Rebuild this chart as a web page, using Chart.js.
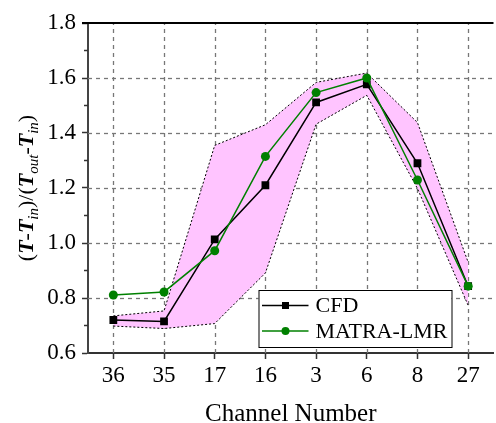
<!DOCTYPE html>
<html>
<head>
<meta charset="utf-8">
<script src="https://cdn.jsdelivr.net/npm/chart.js@4.4.1/dist/chart.umd.min.js"></script>
<style>
  html, body { margin: 0; padding: 0; background: #fff; overflow: hidden; }
  #wrap { width: 499px; height: 423px; }
</style>
</head>
<body>
<div id="wrap"><canvas id="myChart"></canvas></div>
<script>
const channels = ['36', '35', '17', '16', '3', '6', '8', '27'];
const cfd = [0.720, 0.715, 1.013, 1.210, 1.511, 1.577, 1.290, 0.843];
const matra = [0.811, 0.822, 0.972, 1.315, 1.547, 1.600, 1.229, 0.843];
const bandUpper = [0.735, 0.753, 1.355, 1.430, 1.584, 1.618, 1.438, 0.930];
const bandLower = [0.698, 0.689, 0.707, 0.891, 1.432, 1.537, 1.198, 0.773];
const yTicks = [0.6, 0.8, 1.0, 1.2, 1.4, 1.6, 1.8];

const serif = "'Liberation Serif', 'Times New Roman', Times, serif";

// dashed grid under the data
const dashedGrid = {
    id: 'dashedGrid',
    beforeDatasetsDraw(chart) {
        const { ctx, chartArea: a, scales: { x, y } } = chart;
        ctx.save();
        ctx.strokeStyle = '#777';
        ctx.lineWidth = 1.3;
        ctx.setLineDash([4, 4]);
        channels.forEach((c, i) => {
            const px = Math.round(x.getPixelForValue(i)) + 0.5;
            ctx.beginPath();
            ctx.moveTo(px, a.bottom);
            ctx.lineTo(px, a.top);
            ctx.stroke();
        });
        yTicks.slice(1, -1).forEach(v => {
            const py = Math.round(y.getPixelForValue(v)) + 0.5;
            ctx.beginPath();
            ctx.moveTo(a.left, py);
            ctx.lineTo(a.right, py);
            ctx.stroke();
        });
        ctx.restore();
    }
};

const extras = {
    id: 'extras',
    afterDraw(chart) {
        const { ctx, chartArea: a, scales: { x, y } } = chart;
        ctx.save();

        // minor ticks on the left axis
        ctx.strokeStyle = '#333';
        ctx.lineWidth = 1.5;
        for (let i = 0; i < yTicks.length - 1; i++) {
            const py = y.getPixelForValue((yTicks[i] + yTicks[i + 1]) / 2);
            ctx.beginPath();
            ctx.moveTo(a.left - 4, py);
            ctx.lineTo(a.left, py);
            ctx.stroke();
        }

        // top frame
        ctx.strokeStyle = '#000';
        ctx.lineWidth = 2;
        ctx.beginPath();
        ctx.moveTo(a.left - 6, a.top);
        ctx.lineTo(a.right, a.top);
        ctx.stroke();

        // legend
        const bw = 193, bh = 57;
        const bx = a.right - 42 - bw, by = a.bottom - 6 - bh;
        ctx.fillStyle = '#fff';
        ctx.fillRect(bx, by, bw, bh);
        ctx.strokeStyle = '#000';
        ctx.lineWidth = 1;
        ctx.strokeRect(bx + 0.5, by + 0.5, bw, bh);

        const rows = [
            { label: 'CFD', color: '#000', shape: 'rect', yy: by + 15.5 },
            { label: 'MATRA-LMR', color: '#008000', shape: 'circle', yy: by + 41 }
        ];
        rows.forEach(r => {
            ctx.strokeStyle = r.color;
            ctx.lineWidth = 1.5;
            ctx.beginPath();
            ctx.moveTo(bx + 3.5, r.yy);
            ctx.lineTo(bx + 50, r.yy);
            ctx.stroke();
            ctx.fillStyle = r.color;
            if (r.shape === 'rect') {
                ctx.fillRect(bx + 23.5, r.yy - 3.5, 7, 7);
            } else {
                ctx.beginPath();
                ctx.arc(bx + 27, r.yy, 4, 0, Math.PI * 2);
                ctx.fill();
            }
            ctx.fillStyle = '#000';
            ctx.font = '22px ' + serif;
            ctx.textAlign = 'left';
            ctx.textBaseline = 'middle';
            ctx.fillText(r.label, bx + 57, r.yy + 1);
        });

        // x title
        ctx.fillStyle = '#000';
        ctx.font = '25px ' + serif;
        ctx.textAlign = 'center';
        ctx.textBaseline = 'alphabetic';
        ctx.fillText('Channel Number', (a.left + a.right) / 2, 421);

        // y title with subscripts
        const big = '22px ' + serif;
        const bigT = 'italic bold 22px ' + serif;
        const sub = 'italic 15px ' + serif;
        const parts = [
            ['(', big, 0], ['T', bigT, 0], ['-', big, 0], ['T', bigT, 0], ['in', sub, 5],
            [')/(', big, 0], ['T', bigT, 0], ['out', sub, 5], ['-', big, 0],
            ['T', bigT, 0], ['in', sub, 5], [')', big, 0]
        ];
        let total = 0;
        parts.forEach(p => { ctx.font = p[1]; total += ctx.measureText(p[0]).width; });
        ctx.translate(33, (a.top + a.bottom) / 2);
        ctx.rotate(-Math.PI / 2);
        ctx.textAlign = 'left';
        let cx = -total / 2;
        parts.forEach(p => {
            ctx.font = p[1];
            ctx.fillText(p[0], cx, p[2]);
            cx += ctx.measureText(p[0]).width;
        });

        ctx.restore();
    }
};

const data = {
    labels: channels,
    datasets: [
        {
            label: 'MATRA-LMR',
            data: matra,
            borderColor: '#008000',
            backgroundColor: '#008000',
            borderWidth: 1.5,
            pointStyle: 'circle',
            pointRadius: 4.5,
            pointBorderWidth: 0,
            fill: false
        },
        {
            label: 'CFD',
            data: cfd,
            borderColor: '#000',
            backgroundColor: '#000',
            borderWidth: 1.5,
            pointStyle: 'rect',
            pointRadius: 5.5,
            pointBorderWidth: 0,
            fill: false
        },
        {
            label: 'upper',
            data: bandUpper,
            borderColor: '#000',
            borderWidth: 1,
            borderDash: [2, 2],
            pointRadius: 0,
            fill: false
        },
        {
            label: 'lower',
            data: bandLower,
            borderColor: '#000',
            borderWidth: 1,
            borderDash: [2, 2],
            pointRadius: 0,
            backgroundColor: '#ffc4ff',
            fill: '-1'
        }
    ]
};

const config = {
    type: 'line',
    data: data,
    options: {
        responsive: true,
        maintainAspectRatio: false,
        animation: false,
        layout: { padding: { top: 23, left: 0, right: 0, bottom: 0 } },
        plugins: {
            legend: { display: false },
            tooltip: { enabled: false }
        },
        scales: {
            x: {
                offset: true,
                afterFit: s => { s.height = 70; },
                grid: {
                    offset: false,
                    drawOnChartArea: false,
                    color: '#333',
                    tickLength: 6,
                    tickColor: '#333',
                    tickWidth: 1.5
                },
                border: { display: true, color: '#333', width: 2 },
                ticks: {
                    color: '#000',
                    padding: 3,
                    font: { family: serif, size: 23 },
                    maxRotation: 0,
                    autoSkip: false
                }
            },
            y: {
                min: 0.6,
                max: 1.8,
                afterFit: s => { s.width = 88; },
                grid: {
                    drawOnChartArea: false,
                    color: '#333',
                    tickLength: 6,
                    tickColor: '#333',
                    tickWidth: 1.5
                },
                border: { display: true, color: '#444', width: 2 },
                ticks: {
                    stepSize: 0.2,
                    color: '#000',
                    padding: 6,
                    font: { family: serif, size: 23 },
                    callback: v => v.toFixed(1)
                }
            }
        }
    },
    plugins: [dashedGrid, extras]
};

const myChart = new Chart(document.getElementById('myChart'), config);
</script>
</body>
</html>
